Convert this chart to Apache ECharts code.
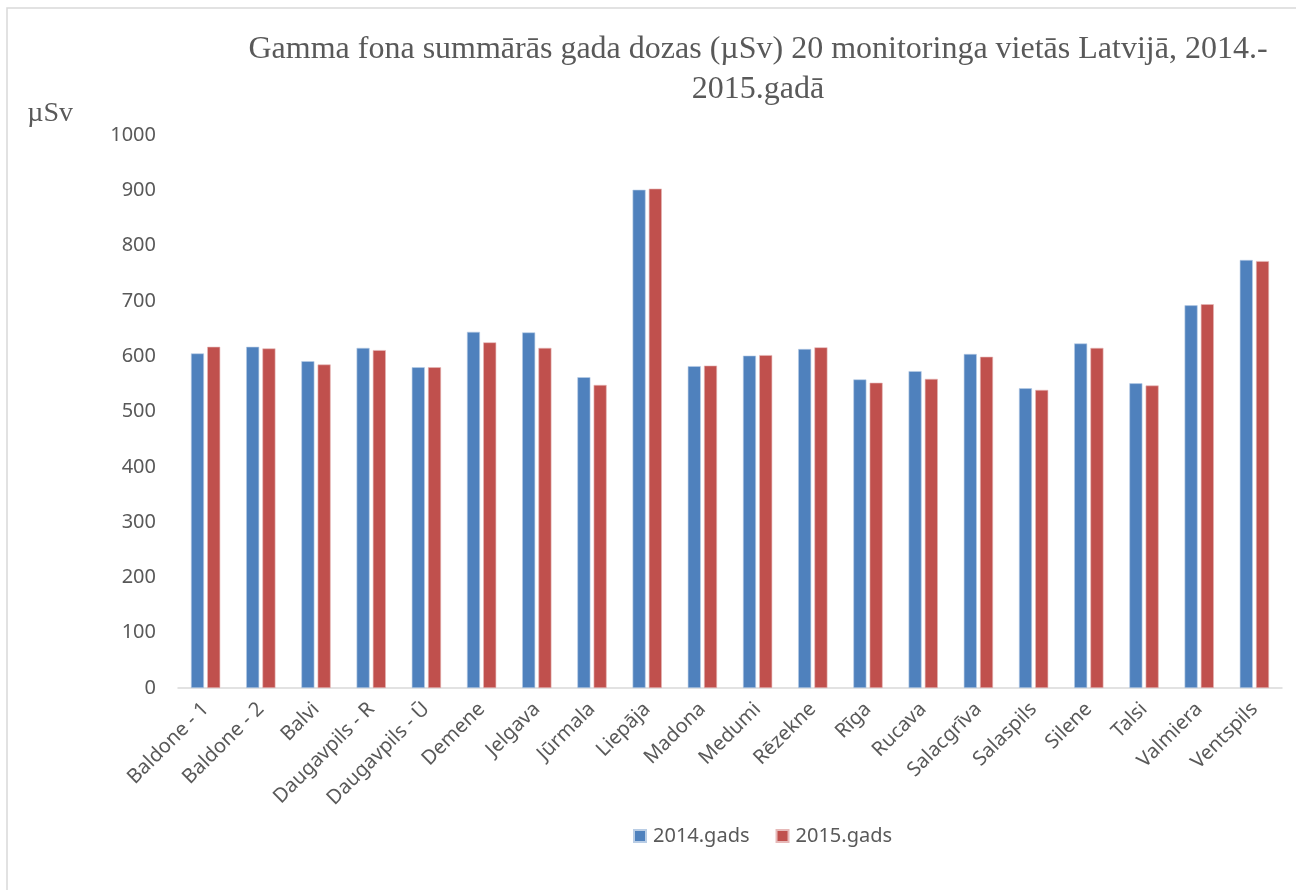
<!DOCTYPE html>
<html>
<head>
<meta charset="utf-8">
<script src="https://cdn.jsdelivr.net/npm/echarts@6/dist/echarts.min.js"></script>
<style>
  html, body { margin: 0; padding: 0; background: #fff; }
  #chart { width: 1296px; height: 890px; }
</style>
</head>
<body>
<div id="chart"></div>
<script>
// monitoring sites
const sites = ['Baldone - 1', 'Baldone - 2', 'Balvi', 'Daugavpils - R', 'Daugavpils - Ū',
  'Demene', 'Jelgava', 'Jūrmala', 'Liepāja', 'Madona', 'Medumi', 'Rēzekne', 'Rīga',
  'Rucava', 'Salacgrīva', 'Salaspils', 'Silene', 'Talsi', 'Valmiera', 'Ventspils'];
const dose2014 = [605, 617, 591, 615, 580, 644, 643, 562, 901, 582,
  601, 613, 558, 573, 604, 542, 623, 551, 692, 774];
const dose2015 = [617, 614, 585, 611, 580, 625, 615, 548, 903, 583,
  602, 616, 552, 559, 599, 539, 615, 547, 694, 772];
const yTicks = [0, 100, 200, 300, 400, 500, 600, 700, 800, 900, 1000];

const txt = '#595959';
const sans = '"Noto Sans", sans-serif';
const serif = '"Liberation Serif", serif';

let myChart = echarts.init(document.getElementById('chart'));
let option = {
    backgroundColor: '#fff',
    animation: false,
    title: {
        text: 'Gamma fona summārās gada dozas (µSv) 20 monitoringa vietās Latvijā, 2014.-\n2015.gadā',
        left: 753,
        top: 25,
        textAlign: 'center',
        textStyle: {
            fontFamily: serif,
            fontSize: 32,
            fontWeight: 'normal',
            color: txt,
            lineHeight: 40
        }
    },
    legend: {
        data: ['2014.gads', '2015.gads'],
        left: 628,
        top: 821,
        itemWidth: 12,
        itemHeight: 12,
        itemGap: 26,
        icon: 'rect',
        textStyle: { fontFamily: sans, fontSize: 20, color: txt, padding: [0, 0, 0, 2] }
    },
    grid: { left: 178, right: 14, top: 135, bottom: 202 },
    xAxis: {
        type: 'category',
        data: sites,
        axisLine: { lineStyle: { color: '#D9D9D9', width: 1.5 } },
        axisTick: { show: false },
        axisLabel: {
            rotate: 45,
            interval: 0,
            margin: 18,
            fontFamily: sans,
            fontSize: 20,
            color: txt
        }
    },
    yAxis: {
        type: 'value',
        min: 0,
        max: yTicks[yTicks.length - 1],
        interval: yTicks[1] - yTicks[0],
        name: 'µSv',
        nameLocation: 'end',
        nameGap: 21,
        nameTextStyle: {
            fontFamily: serif,
            fontSize: 28,
            color: txt,
            align: 'right',
            verticalAlign: 'middle',
            padding: [0, 105, 0, 0]
        },
        axisLine: { show: false },
        axisTick: { show: false },
        splitLine: { show: false },
        axisLabel: {
            fontFamily: sans,
            fontSize: 20,
            color: txt,
            margin: 22,
            formatter: function (v) { return String(v); }
        }
    },
    series: [
        {
            name: '2014.gads',
            type: 'bar',
            data: dose2014,
            barWidth: 13,
            barGap: '25%',
            itemStyle: { color: '#4F81BD', borderColor: '#B9CDE5', borderWidth: 0.6 }
        },
        {
            name: '2015.gads',
            type: 'bar',
            data: dose2015,
            barWidth: 13,
            barGap: '25%',
            itemStyle: { color: '#C0504D', borderColor: '#E6B9B8', borderWidth: 0.6 }
        }
    ],
    graphic: [{
        type: 'rect',
        shape: { x: 7, y: 8, width: 1400, height: 1000 },
        style: { fill: 'none', stroke: '#D9D9D9', lineWidth: 1.5 },
        silent: true,
        z: -1
    }]
};
myChart.setOption(option, true);
</script>
</body>
</html>
